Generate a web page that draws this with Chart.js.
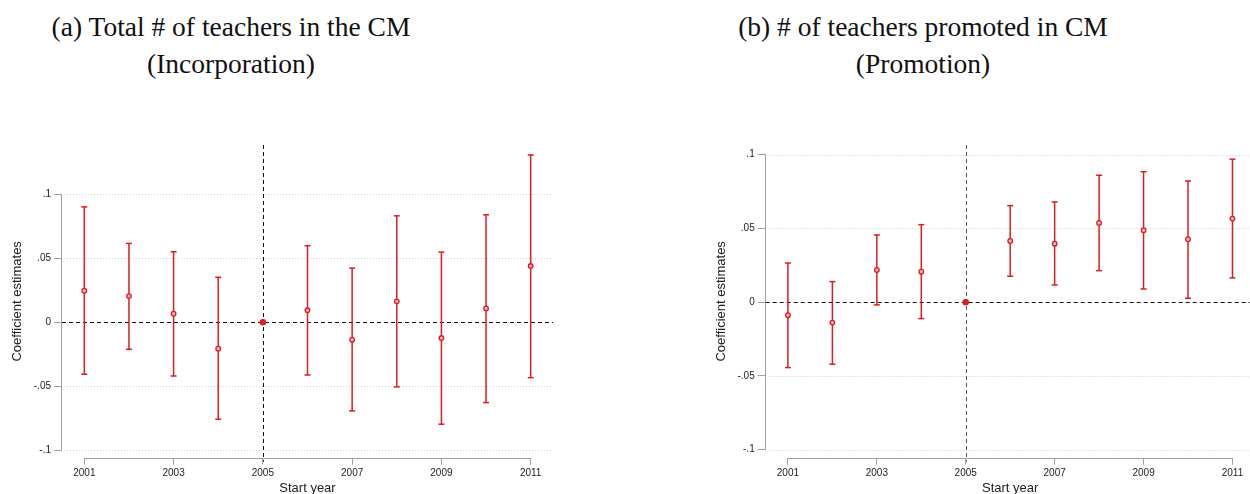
<!DOCTYPE html>
<html><head><meta charset="utf-8">
<script src="https://cdn.jsdelivr.net/npm/chart.js@4.4.0/dist/chart.umd.min.js"></script>
<style>
html,body{margin:0;padding:0;width:1250px;height:494px;overflow:hidden;background:#fff;}
.title{position:absolute;font-family:"Liberation Serif","DejaVu Serif",serif;font-size:27.5px;color:#111;text-align:center;line-height:37px;white-space:nowrap;transform:translateX(-50%);}
.wrap{position:absolute;}
canvas{display:block;}
</style></head><body>
<div class="title" style="left:231px;top:8px">(a) Total # of teachers in the CM<br>(Incorporation)</div>
<div class="title" style="left:923px;top:8px">(b) # of teachers promoted in CM<br>(Promotion)</div>
<div class="wrap" style="left:0;top:130px;"><canvas id="c1" width="625" height="380"></canvas></div>
<div class="wrap" style="left:700px;top:130px;"><canvas id="c2" width="560" height="380"></canvas></div>
<script>
const years = [2001,2002,2003,2004,2005,2006,2007,2008,2009,2010,2011];
const coefA = [0.0247,0.0205,0.0067,-0.0206,0,0.0094,-0.0136,0.0164,-0.0123,0.0109,0.0440];
const lowA  = [-0.0406,-0.0211,-0.0420,-0.0758,null,-0.0412,-0.0693,-0.0505,-0.0797,-0.0628,-0.0433];
const highA = [0.0903,0.0617,0.0552,0.0352,null,0.0599,0.0424,0.0833,0.0549,0.0841,0.1309];
const coefB = [-0.0088,-0.0138,0.0219,0.0207,0,0.0416,0.0397,0.0538,0.0488,0.0427,0.0567];
const lowB  = [-0.0443,-0.0420,-0.0018,-0.0111,null,0.0176,0.0117,0.0214,0.0090,0.0027,0.0165];
const highB = [0.0266,0.0140,0.0456,0.0526,null,0.0655,0.0680,0.0861,0.0885,0.0822,0.0970];
const xTicks = [2001,2003,2005,2007,2009,2011];
const yTicks = [-0.1,-0.05,0,0.05,0.1];
const refYear = 2005;
const yTitle = 'Coefficient estimates';
const xTitle = 'Start year';

const RED = '#dd1c24';
const AXIS = '#a0a0a0';
const SANS = '"Liberation Sans", Arial, Helvetica, sans-serif';

function fmtY(v){
  const s = String(+(+v).toFixed(3));
  return s.replace('0.', '.');
}

const decor = {
  id: 'decor',
  beforeDatasetsDraw(chart, args, opts){
    const {ctx, chartArea: a, scales: {x, y}} = chart;
    const ln = (x1,y1,x2,y2)=>{ctx.beginPath();ctx.moveTo(x1,y1);ctx.lineTo(x2,y2);ctx.stroke();};
    ctx.save();
    ctx.lineWidth = 1;
    // dotted gridlines
    ctx.strokeStyle = '#cfcfcf';
    ctx.setLineDash([1,2]);
    yTicks.forEach(v=>{
      if (v === 0) return;
      const py = Math.round(y.getPixelForValue(v)) + 0.5;
      ln(a.left + 2, py, a.right, py);
    });
    // axis lines spanning tick range
    ctx.setLineDash([]);
    ctx.strokeStyle = AXIS;
    const ax = Math.round(a.left) - 0.5;
    ln(ax, y.getPixelForValue(yTicks[yTicks.length-1]), ax, y.getPixelForValue(yTicks[0]));
    const ay = Math.round(a.bottom) + 0.5;
    ln(x.getPixelForValue(xTicks[0]), ay, x.getPixelForValue(xTicks[xTicks.length-1]), ay);
    // zero line
    ctx.strokeStyle = '#111';
    ctx.setLineDash([4,3]);
    const y0 = Math.round(y.getPixelForValue(0)) + 0.5;
    ln(a.left, y0, a.right, y0);
    // reference year vertical line
    ctx.strokeStyle = opts.vcolor || '#111';
    const xr = Math.round(x.getPixelForValue(refYear)) + 0.5;
    ln(xr, a.top, xr, a.bottom + 4);
    // error bars
    ctx.setLineDash([]);
    ctx.strokeStyle = RED;
    ctx.lineWidth = 1.5;
    opts.low.forEach((lo, i)=>{
      const hi = opts.high[i];
      if (lo === null || hi === null) return;
      const px = x.getPixelForValue(years[i]);
      const pl = y.getPixelForValue(lo), ph = y.getPixelForValue(hi);
      ln(px, pl, px, ph);
      ln(px - 3, pl, px + 3, pl);
      ln(px - 3, ph, px + 3, ph);
    });
    ctx.restore();
  }
};

function makeChart(id, coef, low, high, ymin, ymax, yw, xmax, padRight, yTitlePad, vcolor){
  const refIdx = years.indexOf(refYear);
  new Chart(document.getElementById(id), {
    type: 'scatter',
    data: {
      datasets: [{
        data: years.map((yr,i)=>({x: yr, y: coef[i]})),
        pointRadius: years.map((yr,i)=> i===refIdx ? 2.6 : 2.3),
        pointBackgroundColor: years.map((yr,i)=> i===refIdx ? RED : '#f6b8b8'),
        pointBorderColor: RED,
        pointBorderWidth: 1.3,
        showLine: false
      }]
    },
    options: {
      responsive: false,
      devicePixelRatio: 1,
      animation: false,
      events: [],
      layout: {padding: {top: 15, right: padRight, left: 0, bottom: 0}},
      plugins: {legend: {display: false}, tooltip: {enabled: false}, decor: {low, high, vcolor}},
      scales: {
        x: {
          type: 'linear', min: 2000.5, max: xmax,
          afterBuildTicks: s => { s.ticks = xTicks.map(v=>({value: v})); },
          afterFit: s => { s.height = 52.3; },
          border: {display: false},
          grid: {display: true, drawOnChartArea: false, drawTicks: true, tickLength: 7, color: AXIS, lineWidth: 1},
          ticks: {callback: v => String(v), font: {family: SANS, size: 10}, color: '#222', padding: 3, maxRotation: 0, autoSkip: false},
          title: {display: true, text: xTitle, font: {family: SANS, size: 13, lineHeight: 1.2}, color: '#222', padding: {top: 0, bottom: 14.2}}
        },
        y: {
          type: 'linear', min: ymin, max: ymax,
          afterBuildTicks: s => { s.ticks = yTicks.map(v=>({value: v})); },
          afterFit: s => { s.width = yw; },
          border: {display: false},
          grid: {display: true, drawOnChartArea: false, drawTicks: true, tickLength: 8, color: AXIS, lineWidth: 1},
          ticks: {callback: v => fmtY(v), font: {family: SANS, size: 10}, color: '#222', padding: 3},
          title: {display: true, text: yTitle, font: {family: SANS, size: 13, lineHeight: 1.2}, color: '#222', padding: {top: yTitlePad, bottom: 0}}
        }
      }
    },
    plugins: [decor]
  });
}

makeChart('c1', coefA, lowA, highA, -0.1059, 0.1387, 62, 2011.5, 72, 10, '#111');
makeChart('c2', coefB, lowB, highB, -0.1054, 0.1066, 65.7, 2011.5, 2, 14, '#555');
</script>
</body></html>
